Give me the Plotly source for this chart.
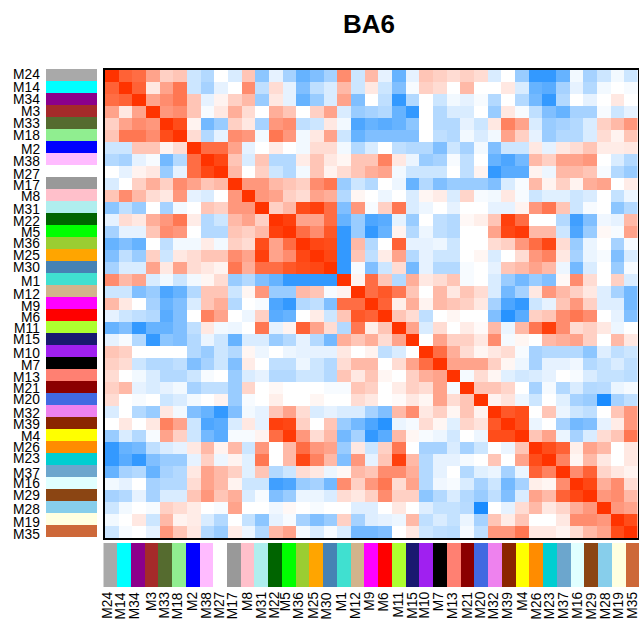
import plotly.graph_objects as go

W, H = 639, 623
modules = ["M24","M14","M34","M3","M33","M18","M2","M38","M27","M17","M8","M31","M22","M5","M36","M25","M30","M1","M12","M9","M6","M11","M15","M10","M7","M13","M21","M20","M32","M39","M4","M26","M23","M37","M16","M29","M28","M19","M35"]
module_colors = ["#A9A9A9","#00FFFF","#8B008B","#A52A2A","#556B2F","#90EE90","#0000FF","#FFBBFF","#FFFFFF","#999999","#FFC0CB","#AFEEEE","#006400","#00FF00","#9ACD32","#FFA500","#4682B4","#40E0D0","#D2B48C","#FF00FF","#FF0000","#ADFF2F","#191970","#A020F0","#000000","#FF8072","#8B0000","#4169E1","#EE82EE","#8B2500","#FFFF00","#FF8C00","#00CED1","#6CA6CD","#E0FFFF","#8B4513","#87CEEB","#FFFFE0","#CD6839"]

# Upper triangle of the module correlation matrix (x10), each row starting at its diagonal
upper = [
[10,7,6.5,4,2,2.5,-2,-3,0,-1.5,2.5,-4.5,-1,-3.5,-6,-5,-3.5,5,-2,3,-1,-6,-1,2.5,2,1.5,2,1.5,-1.5,0,-4,-8,-8,-6,-.5,-3.5,-2,-.5,-2],
[10,7,1,4,6,-2,-3.5,-1,0,5,-2.5,1.5,-1,-5,-2.5,-1.5,3,-2,1,-2,-5,-.3,2,1.5,0,3,0,0,1,-1.5,-6,-6.5,-3.5,-1,-3,-.5,0,-.3],
[10,4,5,6,2.5,-1,.5,2,3,-4,1,-1,-6,-4,-1.5,4,-5,0,-2.5,-8,-3,0,-2,-.5,-1,-.3,-3,0,-3,-5.5,-8,-3,0,-1,0,1,0],
[10,4.5,5,2.5,-.3,1,3.5,1.5,0,3.5,2.5,0,2,4,-1.5,-4,-3.5,-3,-6,-8,0,-3,-1.5,-1.5,0,-4,1,-.3,-2.5,-5,-6,-3.5,-3.5,-.3,-2,-1],
[10,8,.5,-5.5,-4,2,1,-3.5,4.5,5,-2.5,-2,1,-.5,-7,-6,-6.5,-6,-4.5,0,-3,-3,-1,-2,1,5.5,4,-1.5,-4,-3.5,-3,-1.5,2,3,4.5],
[10,1.5,-3,-1,5,4.5,-.5,6,4.5,-.5,1,4,-2,-6,-5,-5,-5,-5,0,-2.5,-3,-.5,-1.5,-.5,4,2,-1,-4,-3,-3,-1.5,1.5,.5,2.5],
[10,6.5,6.5,4,-1,0,.8,0,-.5,1.5,1.5,-.5,-3,-1.5,0,-2.5,-3,-3,-5,-2,-3.5,-.5,-5,-2,-2,1,-1,1,1.5,2.5,.8,.8,1],
[10,8.5,2.5,-1.5,2.5,-3,-3,.8,2.5,1,.4,2.5,2.5,5.5,1,-.8,-4,-3.5,-.3,-2.5,0,-6,-7,-5.5,3,2,4,4,4.5,0,-1.5,-3],
[10,3,0,2,-2,-3,-.5,2.5,.5,1.5,2.5,3.5,4,-.5,-2,-2,-2,0,-2.5,.5,-8,-6.5,-6.5,.5,-.7,3,3,2.5,-.3,-3,-4],
[10,4.5,4.5,3,2.5,2,5,6,-4,-2,-3,0,-.7,-6,-3,-5,-4,-4,-4,-5,-1.5,-.3,3,.5,2,.5,3.5,4,0,.8],
[10,4.5,4,2,1.5,4,3.5,-3,.4,0,-.7,0,-1.5,.4,.8,-1.5,1.8,-.3,-.5,1,-.3,-2,-1.2,-1.2,-2,-1.5,0,-2.3,-.7],
[10,2,3,8,9,6.5,-5,4.5,-.3,2,6,-1.5,-.7,0,-1,0,0,-1,-1,.5,4.5,6,2.5,-2,-.3,0,-4.5,-3],
[10,9,4,4,6.5,-6,-4,-7,-6.5,-1,-4,0,-2.5,-3,.3,.7,2.5,9,6.5,0,0,-3,-7.5,-5,-.6,-1,3],
[10,6.5,5,7.5,-8,-4,-8,-6,.5,-3,-.7,-2.5,-3,0,0,4,8.5,9.5,3,3,-2,-7,-4,.3,-.3,4],
[10,8.5,8,-8,3,-3,0,7,-1,-1,-.7,-2,0,0,1.5,2,4.5,6.5,8.5,1.5,-4,-.8,0,-3.5,-.4],
[10,8.5,-8,2.5,-2.5,.8,4,-3,-1,-2,-2,0,.4,-1.5,0,1.5,4.5,5.5,1,-3.5,-.8,-.3,-5,-1.5],
[10,-8,-.3,-5,-2,1.5,-5.5,-1,-3,-3,-.3,0,-1,2.5,3,4,3,-.7,-5.5,-1.5,0,-4,-.3],
[10,.5,6.5,2.5,-3,3.5,1,1.5,2.5,-.3,0,-1.5,-4,-5.5,-4,-5,.3,5,1.5,0,2,-1.5],
[10,6.5,7.5,6,2.5,0,3,1,2.5,1.5,-1.5,-5.5,-3.5,1,4.5,3,2,1,-1.3,-3.5,-5.5],
[10,7,.7,3.5,.5,3,2.5,2,1,-3.5,-7,-8,-2,-1,2.5,4.5,2,-1.3,-1.3,-5.5],
[10,2.5,1.5,-2.5,0,.4,0,0,-5,-9,-6.5,2,2.5,5,6,5,0,-1,-5],
[10,4,-1.5,1.5,0,.8,.2,3,-.8,3,6,9,5,1.5,2,1,-.7,0],
[10,0,4,2,2,1,5,-.4,.4,0,3,3.5,4,2,0,3,1],
[10,6.5,3.5,1.5,.4,1,1.5,-.3,-3.5,-3,-3,-3,-4.5,-1.3,-2.5,-2],
[10,4,4,4,2,.4,-.7,-3.5,-1,-1,-.6,-3,-2.3,-1.5,-2.5],
[10,-.4,1.5,.4,-1.2,-1.8,-1.5,-1,0,-.3,-1.5,-2.3,-2.3,-2.7],
[10,2.5,2.5,1.8,0,-3.5,-.4,-3,-1.5,-3,-2.8,-.8,-.4],
[10,.5,1.2,-.7,-2,0,-1.2,-3.5,-4,-10,-3.5,-2.5],
[10,7.5,8,0,2.5,-.8,-2,-2.5,0,2.5,4.5],
[10,8,-.8,0,-3.5,-5.5,-5,-1,.8,4.5],
[10,2.5,4,-.8,-3.5,-1.5,1.5,2.5,6],
[10,8,7,.7,4,3,0,1],
[10,5.5,.4,3,1,0,1],
[10,5,7,1.8,1,.5],
[10,8.5,3.5,5,1.5],
[10,4.5,5,3],
[10,4.5,4],
[10,8],
[10],
]
left_shift = [0,1,1,1,1,1,3,3,4,3,2,3,3,2,1,1,0,2,3,3,2,1,0,2,2,2,1,0,2,1,1,0,-1,2,0,0,2,3,3]
bottom_shift = [-3,-3,-3,0,-1,-1,0,0,-1,-1,0,0,-1,-3,-4,-3,-3,-2,-2,-2,-1,-1,0,-2,-1,-1,0,-1,-1,-1,0,1,0,0,0,1,1,0,0]

n = len(modules)
z = [[0.0] * n for _ in range(n)]
for i, row in enumerate(upper):
    for k, v in enumerate(row):
        z[i][i + k] = v
        z[i + k][i] = v

idx = list(range(n))
stepped = []
for i, c in enumerate(module_colors):
    stepped += [[i / n, c], [(i + 1) / n, c]]

def dx(a, b):
    return [a / W, b / W]
def dy(top, bottom):
    return [1 - bottom / H, 1 - top / H]

fig = go.Figure()
fig.add_trace(go.Heatmap(z=z, x=idx, y=idx, zmin=-10, zmax=10, showscale=False, xaxis="x", yaxis="y",
                         colorscale=[[0, "#1A8CFF"], [0.1, "#3399FF"], [0.5, "#FFFFFF"], [0.6, "#FFD0C4"],
                                     [0.75, "#FF8C6E"], [0.9, "#FF4D1A"], [1, "#FF3300"]]))
fig.add_trace(go.Heatmap(z=[[i + 0.5] for i in idx], x=[0], y=idx, zmin=0, zmax=n, showscale=False,
                         xaxis="x2", yaxis="y2", colorscale=stepped))
fig.add_trace(go.Heatmap(z=[[i + 0.5 for i in idx]], x=idx, y=[0], zmin=0, zmax=n, showscale=False,
                         xaxis="x3", yaxis="y3", colorscale=stepped))

hidden = dict(showticklabels=False, ticks="", showgrid=False, zeroline=False)
fig.update_layout(
    width=W, height=H, autosize=False, margin=dict(l=0, r=0, t=0, b=0),
    paper_bgcolor="white", plot_bgcolor="white", showlegend=False,
    xaxis=dict(domain=dx(105, 637.5), range=[-0.5, n - 0.5], showline=True, mirror=True, linecolor="black", linewidth=2, **hidden),
    yaxis=dict(domain=dy(70, 538), range=[n - 0.5, -0.5], showline=True, mirror=True, linecolor="black", linewidth=2, **hidden),
    xaxis2=dict(domain=dx(46, 97), range=[-0.5, 0.5], anchor="y2", **hidden),
    yaxis2=dict(domain=dy(69, 537), range=[n - 0.5, -0.5], anchor="x2", **hidden),
    xaxis3=dict(domain=dx(103.3, 639), range=[-0.5, n - 0.5], anchor="y3", **hidden),
    yaxis3=dict(domain=dy(543, 587), range=[-0.5, 0.5], anchor="x3", **hidden),
)

font = dict(family="Liberation Sans", size=13.8, color="#000000")
ann = []
for i, m in enumerate(modules):
    ann.append(dict(text=m, xref="paper", x=39.5 / W, xanchor="right", yref="y2", y=i, yanchor="middle",
                    yshift=-left_shift[i], showarrow=False, font=font, align="right", borderpad=0, borderwidth=0))
    ann.append(dict(text=m, yref="paper", y=1 - 592 / H, yanchor="top", xref="x3", x=i, xanchor="center",
                    xshift=bottom_shift[i], textangle=-90, showarrow=False, font=font, borderpad=0, borderwidth=0))
ann.append(dict(text="<b>BA6</b>", xref="paper", yref="paper", x=368.5 / W, y=1 - 24 / H, xanchor="center", yanchor="middle",
                showarrow=False, font=dict(family="Liberation Sans", size=26, color="#000000")))
fig.update_layout(annotations=ann)
fig.write_html("out.html", config={"displayModeBar": False},
               post_script="document.body.style.margin='0';document.documentElement.style.overflow='hidden';")
